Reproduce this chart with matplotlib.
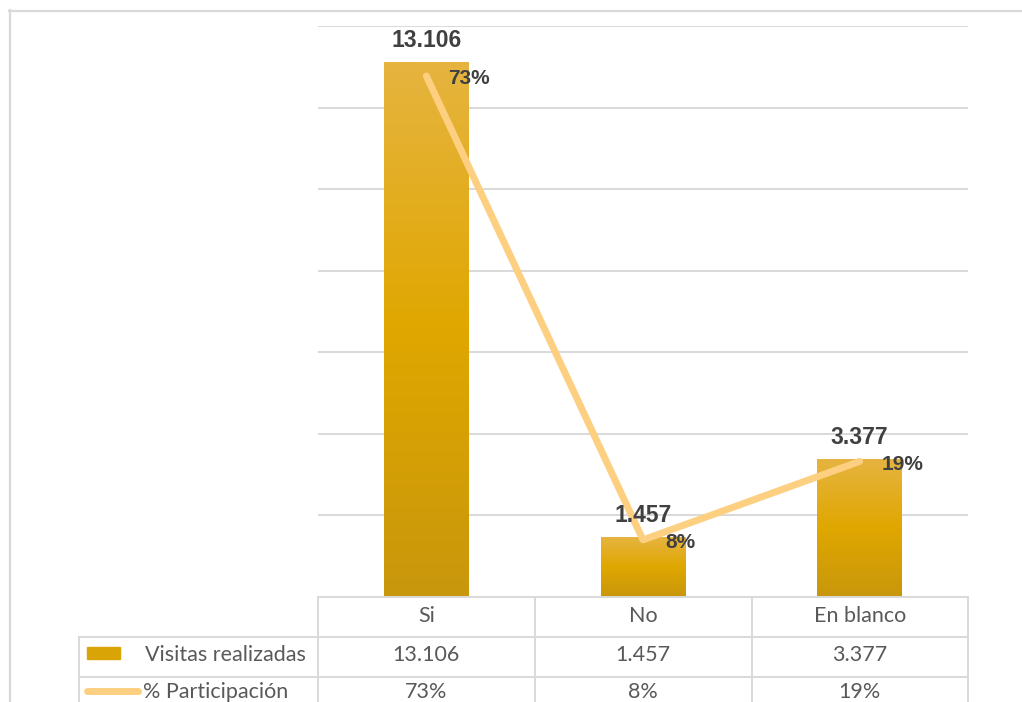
import matplotlib.pyplot as plt
import numpy as np
from matplotlib.colors import LinearSegmentedColormap
from matplotlib.lines import Line2D
from matplotlib.patches import Rectangle
import matplotlib.transforms as mtransforms

categorias = ['Si', 'No', 'En blanco']
visitas = [13106, 1457, 3377]
participacion = [0.73, 0.08, 0.19]
etiquetas_visitas = ['13.106', '1.457', '3.377']
etiquetas_pct = ['73%', '8%', '19%']
series = ['Visitas realizadas', '% Participación']

W, H = 1022, 702
fig = plt.figure(figsize=(W / 100, H / 100), dpi=100)

def fx(x):
    return x / W

def fy(y):
    return 1 - y / H

gris = '#d9d9d9'
naranja = '#fdcf80'
oro = LinearSegmentedColormap.from_list('oro', ['#c8970c', '#e0a700', '#e6b440'])

ax = fig.add_axes([fx(318), fy(597), fx(968) - fx(318), fy(26) - fy(597)])
x = np.arange(len(categorias))
barras = ax.bar(x, visitas, width=0.39, color='none', zorder=2)
grad = np.linspace(0, 1, 256).reshape(-1, 1)
for b in barras:
    ax.imshow(grad, extent=[b.get_x(), b.get_x() + b.get_width(), 0, b.get_height()],
              origin='lower', aspect='auto', cmap=oro, zorder=2)
ax.set_xlim(-0.5, 2.5)
ax.set_ylim(0, 14000)
ax.set_yticks(range(2000, 14001, 2000))
ax.grid(axis='y', color=gris, lw=1.4, zorder=0)
ax.set_axisbelow(True)
ax.tick_params(length=0, labelleft=False, labelbottom=False)
for s in ax.spines.values():
    s.set_visible(False)

ax2 = ax.twinx()
ax2.set_ylim(0, 0.8)
ax2.plot(x, participacion, color=naranja, lw=5, solid_capstyle='round', zorder=3)
ax2.axis('off')

# etiquetas encima de la linea
for xi, v, t in zip(x, visitas, etiquetas_visitas):
    ax2.annotate(t, (xi, v), xycoords=ax.transData, xytext=(0, 22),
                 textcoords='offset pixels', ha='center', va='center',
                 fontsize=16.5, fontweight='bold', color='#404040',
                 family='Liberation Sans', zorder=5)
for xi, p, t in zip(x, participacion, etiquetas_pct):
    ax2.annotate(t, (xi, p), xytext=(22, -3), textcoords='offset pixels',
                 ha='left', va='center', fontsize=15, fontweight='bold',
                 color='#404040', family='Liberation Sans', zorder=5)

# tabla de datos
trans = mtransforms.blended_transform_factory(ax.transData, fig.transFigure)
txt = dict(fontsize=15.5, color='#595959', family='Lato', va='center')
for xi, c, v, p in zip(x, categorias, etiquetas_visitas, etiquetas_pct):
    fig.text(xi, fy(616), c, transform=trans, ha='center', **txt)
    fig.text(xi, fy(655), v, transform=trans, ha='center', **txt)
    fig.text(xi, fy(692), p, transform=trans, ha='center', **txt)
fig.text(fx(145), fy(655), series[0], ha='left', **txt)
fig.text(fx(143), fy(692), series[1], ha='left', **txt)

fig.add_artist(Line2D([fx(318), fx(968)], [fy(597)] * 2, color=gris, lw=1.4))
for yy in [637, 677]:
    fig.add_artist(Line2D([fx(79), fx(968)], [fy(yy)] * 2, color=gris, lw=1.4))
for xx in [318, 535, 752, 968]:
    fig.add_artist(Line2D([fx(xx)] * 2, [fy(597), 0], color=gris, lw=1.4))
fig.add_artist(Line2D([fx(79)] * 2, [fy(637), 0], color=gris, lw=1.4))

fig.add_artist(Rectangle((fx(87), fy(659)), fx(33), 12 / H, color='#d8a406'))
fig.add_artist(Line2D([fx(87), fx(138)], [fy(691)] * 2, color=naranja, lw=5,
                      solid_capstyle='round'))

# marco exterior
fig.add_artist(Line2D([fx(9), 1], [fy(10.5)] * 2, color=gris, lw=1.6))
fig.add_artist(Line2D([fx(10)] * 2, [fy(10), 0], color=gris, lw=1.6))

fig.savefig('out.png', dpi=100)
